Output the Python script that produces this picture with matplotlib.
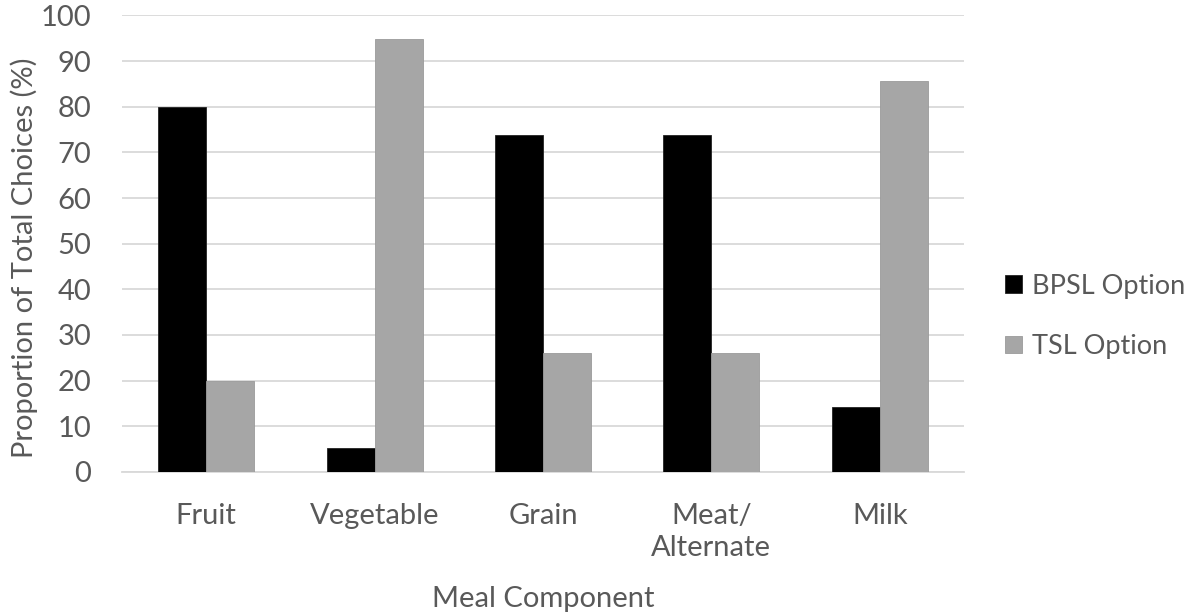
import numpy as np
import matplotlib.pyplot as plt

categories = ["Fruit", "Vegetable", "Grain", "Meat/\nAlternate", "Milk"]
bpsl = [80.0, 5.2, 73.9, 73.9, 14.3]
tsl = [20.0, 94.8, 26.1, 26.1, 85.7]

plt.rcParams['font.family'] = ['Lato', 'DejaVu Sans']
txt = '#595959'
fs = 21

fig = plt.figure(figsize=(11.92, 6.14), dpi=100)
ax = fig.add_axes([0.1023, 0.2313, 0.7064, 0.7437])

x = np.arange(len(categories))
w = 0.285
ax.bar(x - w / 2, bpsl, w, color='black', edgecolor='#222222', linewidth=0.6, label='BPSL Option', zorder=3)
ax.bar(x + w / 2, tsl, w, color='#a6a6a6', edgecolor='#9a9a9a', linewidth=0.6, label='TSL Option', zorder=3)

ax.set_xlim(-0.5, len(categories) - 0.5)
ax.set_ylim(0, 100)
ax.set_yticks(range(0, 101, 10))
ax.set_xticks(x)
ax.set_xticklabels(categories, fontsize=fs, color=txt, linespacing=1.3, va='top')
ax.tick_params(axis='y', labelsize=fs, labelcolor=txt, length=0, pad=22)
ax.tick_params(axis='x', length=0, pad=22)
ax.grid(axis='y', color='#d9d9d9', linewidth=1.3, zorder=0)
for s in ['top', 'right', 'left']:
    ax.spines[s].set_visible(False)
ax.spines['bottom'].set_color('#d9d9d9')
ax.spines['bottom'].set_linewidth(1.3)

ax.set_ylabel('Proportion of Total Choices (%)', fontsize=fs, color=txt)
ax.yaxis.set_label_coords(-0.1, 0.47)
ax.set_xlabel('Meal Component', fontsize=fs, color=txt, labelpad=18)

fig.legend(loc='center left', bbox_to_anchor=(0.823, 0.485), frameon=False, fontsize=19.5,
           labelcolor=txt, handlelength=0.6, handleheight=0.6, handletextpad=0.4, labelspacing=1.3)

fig.savefig('out.png', dpi=100)
